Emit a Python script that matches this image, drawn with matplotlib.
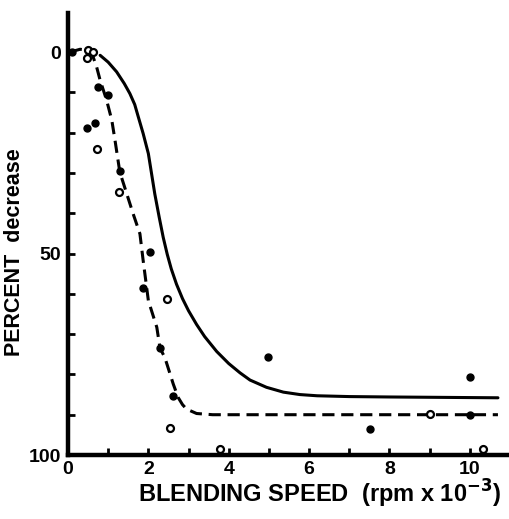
import numpy as np
import matplotlib
matplotlib.use("Agg")
import matplotlib.pyplot as plt

plt.rcParams["font.family"] = ["Liberation Sans", "DejaVu Sans"]
plt.rcParams["font.weight"] = "bold"
plt.rcParams["mathtext.default"] = "bf"

# ---- data ----
# smooth curve (solid)
solid_x = [0.80, 1.0, 1.21, 1.4, 1.54, 1.66, 1.75, 1.87, 2.0, 2.08, 2.16, 2.27, 2.37,
           2.47, 2.57, 2.7, 2.85, 3.0, 3.2, 3.4, 3.7, 4.0, 4.28, 4.53, 4.94, 5.36,
           5.77, 6.2, 7.0, 8.0, 10.7]
solid_y = [0.8, 2.5, 4.9, 7.8, 10.3, 13.0, 16.1, 20.2, 25.2, 30.2, 35.2, 41.0, 46.0,
           50.2, 53.8, 57.6, 61.2, 64.2, 67.6, 70.6, 74.3, 77.3, 79.6, 81.4, 83.2, 84.4,
           85.0, 85.3, 85.5, 85.6, 85.8]

# dashed curve
dash_x = [0.05, 0.3, 0.46, 0.6, 0.71, 0.8, 0.96, 1.09, 1.17, 1.29, 1.46, 1.62, 1.79,
          1.87, 2.0, 2.21, 2.29, 2.41, 2.62, 2.74, 2.85, 2.95, 3.2, 3.6, 10.7]
dash_y = [0.0, -0.7, -0.5, 0.5, 3.6, 7.0, 11.9, 16.9, 21.9, 29.8, 35.1, 40.1, 45.1,
          51.7, 61.7, 68.3, 73.5, 75.8, 82.4, 85.7, 87.5, 88.6, 89.7, 90.0, 90.0]

# filled points
filled_x = [0.1, 0.47, 0.67, 0.75, 1.0, 1.29, 1.87, 2.04, 2.29, 2.61, 4.98, 7.51, 10.0, 10.0]
filled_y = [0.0, 18.9, 17.7, 8.6, 10.7, 29.6, 58.5, 49.5, 73.4, 85.3, 75.6, 93.5, 80.6, 90.0]

# open points
open_x = [0.5, 0.62, 0.48, 0.72, 1.27, 2.46, 2.54, 3.78, 9.0, 10.32]
open_y = [-0.5, 0.0, 1.5, 24.1, 34.8, 61.4, 93.3, 98.5, 89.8, 98.5]

x_ticks = [0, 2, 4, 6, 8, 10]
y_ticks = [0, 50, 100]

fig = plt.figure(figsize=(5.10, 5.19), dpi=100)
ax = fig.add_axes([68 / 510, 1 - 455 / 519, 1 - 68 / 510, (455 - 13) / 519])

ax.plot(solid_x, solid_y, color="black", lw=2.2, solid_capstyle="round")
ax.plot(dash_x, dash_y, color="black", lw=2.2, dashes=(4, 2.2))
ax.plot(filled_x, filled_y, "o", color="black", ms=5, zorder=3)
ax.plot(open_x, open_y, "o", mfc="white", mec="black", mew=1.6, ms=5, zorder=3)

ax.set_xlim(0, 11.0)
ax.set_ylim(100, -9.7)

for side in ("top", "right"):
    ax.spines[side].set_visible(False)
for side in ("left", "bottom"):
    ax.spines[side].set_linewidth(3.2)

ax.set_xticks(x_ticks)
ax.set_xticks(np.arange(1, 11), minor=True)
ax.set_yticks(y_ticks)
ax.set_yticks(np.arange(10, 100, 10), minor=True)
ax.set_xticklabels([str(v) for v in x_ticks])
ax.set_yticklabels([str(v) for v in y_ticks])
ax.tick_params(which="both", direction="in", length=5, width=2)
ax.tick_params(axis="x", which="both", labelsize=14, pad=4)
ax.tick_params(axis="y", which="both", labelsize=14, pad=5)
ax.tick_params(which="minor", labelleft=False, labelbottom=False)

ax.set_xlabel(r"BLENDING SPEED  (rpm x 10$^{-3}$)", fontsize=17, fontweight="bold",
              labelpad=0.5, x=0.57)
ax.set_ylabel("PERCENT  decrease", fontsize=15.5, fontweight="bold", labelpad=3,
              y=0.46)

fig.savefig("out.png", dpi=100)
